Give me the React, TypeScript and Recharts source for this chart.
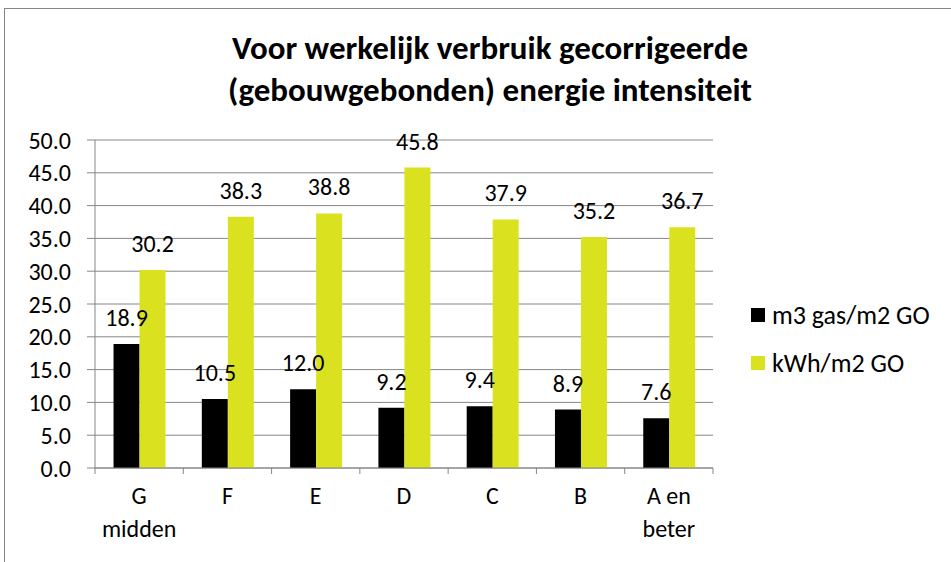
import React from 'react';
import { BarChart, Bar, XAxis, YAxis, CartesianGrid, LabelList, Legend } from 'recharts';

const categories = ['G\nmidden', 'F', 'E', 'D', 'C', 'B', 'A en\nbeter'];
const gasValues = [18.9, 10.5, 12.0, 9.2, 9.4, 8.9, 7.6];
const kwhValues = [30.2, 38.3, 38.8, 45.8, 37.9, 35.2, 36.7];
const yTicks = [0, 5, 10, 15, 20, 25, 30, 35, 40, 45, 50];
const seriesNames = ['m3 gas/m2 GO', 'kWh/m2 GO'];
const titleLines = ['Voor werkelijk verbruik gecorrigeerde', '(gebouwgebonden) energie intensiteit'];

const data = categories.map((c, i) => ({ cat: c, gas: gasValues[i], kwh: kwhValues[i] }));

const FONT = 'Carlito, Calibri, Lato, sans-serif';
const GRID = '#868686';
const BLACK = '#000000';
const YELLOW = '#DAE21F';

const X_TICK_SIZE = 6;
const X_TICK_MARGIN = 12;

const XTick = (props: any) => {
  const { x, y, payload, index, visibleTicksCount } = props;
  const off = payload.offset ?? 0;
  const axisY = y - X_TICK_SIZE - X_TICK_MARGIN;
  const lines = String(payload.value).split('\n');
  return (
    <g>
      <line x1={x - off} x2={x - off} y1={axisY} y2={axisY + X_TICK_SIZE} stroke={GRID} strokeWidth={1} />
      {index === visibleTicksCount - 1 && (
        <line x1={x + off} x2={x + off} y1={axisY} y2={axisY + X_TICK_SIZE} stroke={GRID} strokeWidth={1} />
      )}
      <text x={x} y={y} textAnchor="middle" fontFamily={FONT} fontSize={24} fill="#000">
        {lines.map((l, i) => (
          <tspan key={i} x={x} dy={i === 0 ? '0.75em' : 33}>{l}</tspan>
        ))}
      </text>
    </g>
  );
};

const LegendContent = (props: any) => {
  const { payload } = props;
  const items = [...(payload || [])].sort(
    (a: any, b: any) => seriesNames.indexOf(a.value) - seriesNames.indexOf(b.value)
  );
  return (
    <div style={{ fontFamily: FONT, fontSize: 26, color: '#000' }}>
      {items.map((p: any, i: number) => (
        <div key={i} style={{ display: 'flex', alignItems: 'center', height: 48 }}>
          <span style={{ display: 'inline-block', width: 14, height: 14, background: p.color, marginRight: 7 }} />
          <span>{p.value}</span>
        </div>
      ))}
    </div>
  );
};

export default function App() {
  return (
    <div style={{ position: 'absolute', left: 0, top: 0, width: 951, height: 562, overflow: 'hidden', background: '#fff' }}>
      <div style={{ position: 'absolute', left: 4, top: 8, width: 1100, height: 700, borderLeft: `1px solid ${GRID}`, borderTop: `1px solid ${GRID}` }} />
      <div style={{ position: 'absolute', left: 0, top: 27, width: 980, textAlign: 'center', fontFamily: FONT, fontWeight: 'bold', fontSize: 33, lineHeight: '42px', color: '#000' }}>
        {titleLines.map((t, i) => <div key={i}>{t}</div>)}
      </div>
      <div style={{ position: 'absolute', left: 0, top: 0 }}>
        <BarChart width={951} height={562} data={data} margin={{ top: 140, right: 238, bottom: 34, left: 0 }} barGap={0} barCategoryGap="21%">
          <CartesianGrid vertical={false} stroke={GRID} strokeWidth={1} />
          <XAxis dataKey="cat" axisLine={{ stroke: GRID }} tickLine={false} tickSize={X_TICK_SIZE} tickMargin={X_TICK_MARGIN} height={60} tick={<XTick />} interval={0} />
          <YAxis domain={[0, 50]} ticks={yTicks} width={95} axisLine={{ stroke: GRID }} tickLine={{ stroke: GRID }} tickSize={8} tickMargin={16}
            tickFormatter={(v: number) => v.toFixed(1)} tick={{ fontFamily: FONT, fontSize: 24, fill: '#000' }} interval={0} />
          <Legend layout="vertical" align="center" verticalAlign="middle" content={<LegendContent />}
            wrapperStyle={{ position: 'absolute', left: 751, top: 291, width: 200 }} />
          <Bar dataKey="gas" name={seriesNames[0]} fill={BLACK} isAnimationActive={false}>
            <LabelList dataKey="gas" position="top" offset={18} formatter={(v: number) => v.toFixed(1)} style={{ fontFamily: FONT, fontSize: 24, fill: '#000' }} />
          </Bar>
          <Bar dataKey="kwh" name={seriesNames[1]} fill={YELLOW} isAnimationActive={false}>
            <LabelList dataKey="kwh" position="top" offset={18} formatter={(v: number) => v.toFixed(1)} style={{ fontFamily: FONT, fontSize: 24, fill: '#000' }} />
          </Bar>
        </BarChart>
      </div>
    </div>
  );
}
